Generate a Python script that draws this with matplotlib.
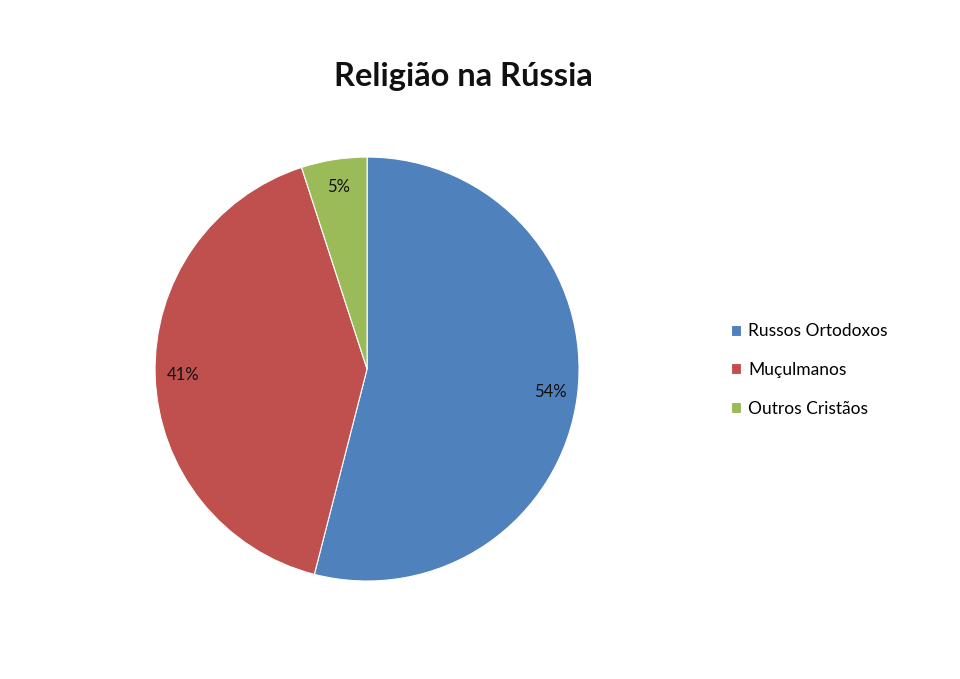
import matplotlib
matplotlib.use("Agg")
import matplotlib.pyplot as plt

# shares of religion in Russia
labels = ["Russos Ortodoxos", "Muçulmanos", "Outros Cristãos"]
shares = [54, 41, 5]
colors = ["#4F81BD", "#C0504D", "#9BBB59"]

plt.rcParams["font.family"] = ["Lato", "DejaVu Sans"]

fig = plt.figure(figsize=(9.6, 6.79), dpi=100)
ax = fig.add_axes([0.1615, 0.1443, 0.4417, 0.6244])

wedges, texts, autotexts = ax.pie(
    shares, colors=colors, startangle=90, counterclock=False,
    autopct="%d%%", pctdistance=0.87, radius=1,
    wedgeprops=dict(edgecolor="white", linewidth=0.8),
    textprops=dict(fontsize=12, color="#111111"))
ax.set_xlim(-1, 1)
ax.set_ylim(-1, 1)
ax.set_aspect("equal")

fig.text(0.483, 0.888, "Religião na Rússia", ha="center", va="center",
         fontsize=23.5, fontweight="bold", color="#111111")

fig.legend(wedges, labels, loc="center left", bbox_to_anchor=(0.745, 0.455),
           frameon=False, fontsize=12.5, handlelength=0.6, handleheight=0.6,
           handletextpad=0.4, labelspacing=1.3)

fig.savefig("out.png", dpi=100)
